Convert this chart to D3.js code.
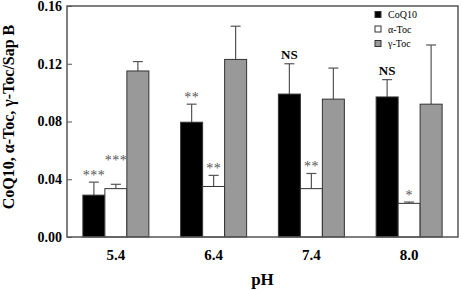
<!DOCTYPE html>
<html>
<head>
<meta charset="utf-8">
<script src="https://cdn.jsdelivr.net/npm/d3@7"></script>
<style>
  body { margin: 0; background: #fff; }
  text { font-family: 'Liberation Serif', 'Times New Roman', serif; }
</style>
</head>
<body>
<div id="chart"></div>
<script>
const phLevels = ['5.4', '6.4', '7.4', '8.0']
const seriesNames = ['CoQ10', 'α-Toc', 'γ-Toc']
const seriesColors = ['#000000', '#ffffff', '#999999']
const coq10 = [0.029, 0.0795, 0.099, 0.097]
const coq10Err = [0.009, 0.0125, 0.021, 0.012]
const aToc = [0.0335, 0.035, 0.0335, 0.0233]
const aTocErr = [0.003, 0.0077, 0.0105, 0.0009]
const gToc = [0.115, 0.123, 0.0955, 0.092]
const gTocErr = [0.0065, 0.023, 0.0215, 0.041]
const coq10Marks = ['***', '**', 'NS', 'NS']
const aTocMarks = ['***', '**', '**', '*']
const yTicks = [0, 0.04, 0.08, 0.12, 0.16]

const W = 462, H = 290
const margin = { top: 6, right: 4, bottom: 53, left: 67 }
const width = W - margin.left - margin.right
const height = H - margin.top - margin.bottom

const svg = d3.select('#chart').append('svg')
  .attr('width', W)
  .attr('height', H)

const g = svg.append('g')
  .attr('transform', `translate(${margin.left}, ${margin.top})`)

const x0 = d3.scaleBand()
  .domain(phLevels)
  .range([0, width])
  .paddingInner(0.325)
  .paddingOuter(0.1625)

const x1 = d3.scaleBand()
  .domain(seriesNames)
  .range([0, x0.bandwidth()])

const y = d3.scaleLinear()
  .domain([0, 0.16])
  .range([height, 0])

const values = [coq10, aToc, gToc]
const errors = [coq10Err, aTocErr, gTocErr]
const marks = [coq10Marks, aTocMarks, null]

const rows = []
phLevels.forEach((ph, i) => {
  seriesNames.forEach((s, j) => {
    rows.push({ ph, s, j, v: values[j][i], e: errors[j][i], m: marks[j] ? marks[j][i] : null })
  })
})

const cx = d => x0(d.ph) + x1(d.s) + x1.bandwidth() / 2

// error bars (upper only)
const eb = g.append('g')
eb.selectAll('line.stem')
  .data(rows)
  .enter().append('line')
  .attr('x1', cx)
  .attr('x2', cx)
  .attr('y1', d => y(d.v))
  .attr('y2', d => y(d.v + d.e))
  .style('stroke', '#555')
  .style('stroke-width', 1.2)
eb.selectAll('line.cap')
  .data(rows)
  .enter().append('line')
  .attr('x1', d => cx(d) - 5)
  .attr('x2', d => cx(d) + 5)
  .attr('y1', d => y(d.v + d.e))
  .attr('y2', d => y(d.v + d.e))
  .style('stroke', '#555')
  .style('stroke-width', 1.2)

g.selectAll('rect.bar')
  .data(rows)
  .enter().append('rect')
  .attr('x', d => x0(d.ph) + x1(d.s))
  .attr('y', d => y(d.v))
  .attr('width', x1.bandwidth())
  .attr('height', d => height - y(d.v))
  .style('fill', d => seriesColors[d.j])
  .style('stroke', '#333')
  .style('stroke-width', 1)

// significance marks; lift a label if it would collide with its neighbour
const sig = rows.filter(d => d.m)
sig.forEach(d => { d.ly = y(d.v + d.e) - (d.m === 'NS' ? 5 : 2) })
sig.forEach((d, i) => {
  const prev = sig[i - 1]
  if (prev && prev.ph === d.ph && Math.abs(prev.ly - d.ly) < 14) d.ly = prev.ly - 15
})

g.selectAll('text.sig')
  .data(sig)
  .enter().append('text')
  .attr('x', cx)
  .attr('y', d => d.ly)
  .attr('text-anchor', 'middle')
  .style('font-size', d => d.m === 'NS' ? '13px' : '14px')
  .style('font-weight', d => d.m === 'NS' ? 'bold' : 'normal')
  .style('fill', d => d.m === 'NS' ? '#000' : '#555')
  .style('letter-spacing', d => d.m === 'NS' ? '0px' : '0.5px')
  .text(d => d.m)

// frame
g.append('rect')
  .attr('width', width)
  .attr('height', height)
  .style('fill', 'none')
  .style('stroke', '#555')
  .style('stroke-width', 1.5)

const yAxis = d3.axisLeft(y)
  .tickValues(yTicks)
  .tickFormat(d3.format('.2f'))
  .tickSizeInner(-5)
  .tickSizeOuter(0)
  .tickPadding(6)

const ya = g.append('g').call(yAxis)
ya.select('.domain').remove()
ya.selectAll('line').style('stroke', '#555')
ya.selectAll('text')
  .style('font-size', '14px')
  .style('font-weight', 'bold')
  .style('fill', '#000')
  .attr('x', -5)

const xa = g.append('g')
  .attr('transform', `translate(0, ${height})`)
  .call(d3.axisBottom(x0).tickSize(0).tickPadding(12))
xa.select('.domain').remove()
xa.selectAll('text')
  .style('font-size', '15px')
  .style('font-weight', 'bold')
  .style('fill', '#000')

g.append('text') // X-axis Label
  .attr('x', width / 2)
  .attr('y', height + 48)
  .attr('text-anchor', 'middle')
  .style('font-size', '17px')
  .style('font-weight', 'bold')
  .text('pH')

svg.append('text') // Y-axis Label
  .attr('transform', 'translate(14, 117) rotate(-90)')
  .attr('text-anchor', 'middle')
  .style('font-size', '16px')
  .style('font-weight', 'bold')
  .text('CoQ10, α-Toc, γ-Toc/Sap B')

// legend
const legend = svg.append('g')
  .attr('transform', 'translate(375, 0)')
seriesNames.forEach((s, i) => {
  const ly = 15 + i * 14.5
  legend.append('rect')
    .attr('x', 0)
    .attr('y', ly - 3.5)
    .attr('width', 6)
    .attr('height', 6)
    .style('fill', seriesColors[i])
    .style('stroke', '#333')
    .style('stroke-width', 1)
  legend.append('text')
    .attr('x', 13)
    .attr('y', ly + 3)
    .style('font-size', '10px')
    .text(s)
})
</script>
</body>
</html>
